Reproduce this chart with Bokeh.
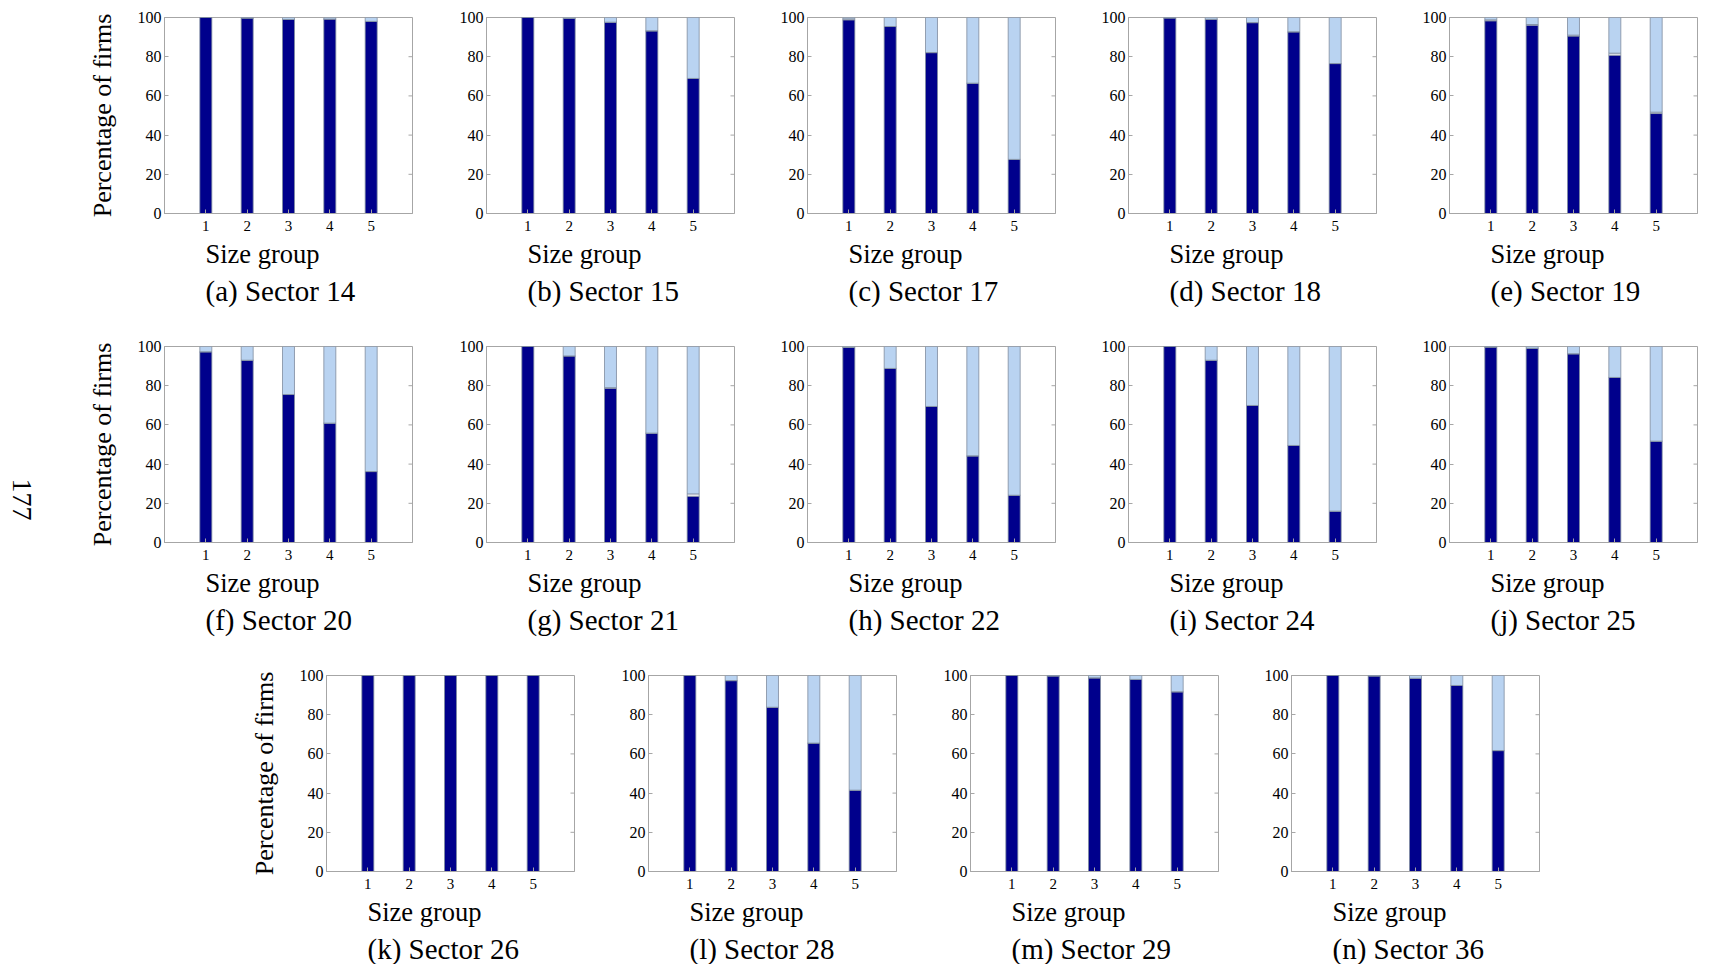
from bokeh.plotting import figure
from bokeh.layouts import row, column
from bokeh.models import (Title, FixedTicker, Range1d, ColumnDataSource, Spacer)
from bokeh.core.properties import value
from bokeh.embed import file_html
from bokeh.resources import INLINE
import math

# ---------------- data ----------------
size_groups = [1, 2, 3, 4, 5]
x_ticks = [1, 2, 3, 4, 5]
y_ticks = [0, 20, 40, 60, 80, 100]

panel_letters = ["a", "b", "c", "d", "e", "f", "g", "h", "i", "j", "k", "l", "m", "n"]
sectors = [14, 15, 17, 18, 19, 20, 21, 22, 24, 25, 26, 28, 29, 36]

dark_14 = [100, 99.7, 99.0, 99.2, 98.0]
mid_14 = [0, 0, 0, 0, 0]
light_14 = [0, 0.3, 1.0, 0.8, 2.0]

dark_15 = [100, 99.5, 97.6, 93.2, 68.9]
mid_15 = [0, 0, 0, 0, 0]
light_15 = [0, 0.5, 2.4, 6.8, 31.1]

dark_17 = [98.8, 95.4, 82.1, 66.5, 27.6]
mid_17 = [0.5, 0, 0, 0, 0]
light_17 = [0.7, 4.6, 17.9, 33.5, 72.4]

dark_18 = [99.8, 99.1, 97.4, 92.7, 76.5]
mid_18 = [0, 0, 0, 0, 0]
light_18 = [0.2, 0.9, 2.6, 7.3, 23.5]

dark_19 = [98.3, 96.1, 90.5, 80.8, 51.0]
mid_19 = [0.5, 0.3, 0.5, 1.0, 0.7]
light_19 = [1.2, 3.6, 9.0, 18.2, 48.3]

dark_20 = [97.3, 93.0, 75.5, 60.9, 36.2]
mid_20 = [0, 0, 0, 0, 0]
light_20 = [2.7, 7.0, 24.5, 39.1, 63.8]

dark_21 = [100, 95.2, 78.7, 55.8, 23.6]
mid_21 = [0, 0, 0.3, 0, 1.2]
light_21 = [0, 4.8, 21.0, 44.2, 75.2]

dark_22 = [99.5, 88.8, 69.4, 44.2, 24.1]
mid_22 = [0, 0, 0, 0, 0]
light_22 = [0.5, 11.2, 30.6, 55.8, 75.9]

dark_24 = [100, 93.0, 69.9, 49.5, 16.0]
mid_24 = [0, 0, 0, 0, 0]
light_24 = [0, 7.0, 30.1, 50.5, 84.0]

dark_25 = [99.7, 99.1, 96.3, 84.2, 51.7]
mid_25 = [0, 0, 0, 0, 0]
light_25 = [0.3, 0.9, 3.7, 15.8, 48.3]

dark_26 = [100, 100, 100, 100, 100]
mid_26 = [0, 0, 0, 0, 0]
light_26 = [0, 0, 0, 0, 0]

dark_28 = [100, 97.4, 83.8, 65.5, 41.5]
mid_28 = [0, 0, 0, 0, 0]
light_28 = [0, 2.6, 16.2, 34.5, 58.5]

dark_29 = [100, 99.8, 98.8, 98.0, 91.7]
mid_29 = [0, 0, 0, 0, 0]
light_29 = [0, 0.2, 1.2, 2.0, 8.3]

dark_36 = [100, 99.8, 98.6, 94.9, 61.7]
mid_36 = [0, 0, 0, 0, 0]
light_36 = [0, 0.2, 1.4, 5.1, 38.3]

series = {
    14: (dark_14, mid_14, light_14), 15: (dark_15, mid_15, light_15),
    17: (dark_17, mid_17, light_17), 18: (dark_18, mid_18, light_18),
    19: (dark_19, mid_19, light_19), 20: (dark_20, mid_20, light_20),
    21: (dark_21, mid_21, light_21), 22: (dark_22, mid_22, light_22),
    24: (dark_24, mid_24, light_24), 25: (dark_25, mid_25, light_25),
    26: (dark_26, mid_26, light_26), 28: (dark_28, mid_28, light_28),
    29: (dark_29, mid_29, light_29), 36: (dark_36, mid_36, light_36),
}

y_label_text = "Percentage of firms"
x_label_text = "Size group"
page_number = "177"

# ---------------- style ----------------
FONT = "Liberation Serif"
DARK = "#00008C"
MID = "#FFFFFF"
LIGHT = "#B9D3F1"
EDGE = "#7F8C9E"
FRAME = "#A6A6A6"
X_MIN, X_MAX = 0, 6


def make_panel(letter, sector, with_ylabel, border_left, border_right, border_top, border_bottom):
    dark, mid, light = series[sector]
    src = ColumnDataSource(dict(x=size_groups, dark=dark, mid=mid, light=light))
    p = figure(frame_width=248, frame_height=196,
               min_border_left=border_left, min_border_right=border_right,
               min_border_top=border_top, min_border_bottom=border_bottom,
               x_range=Range1d(X_MIN, X_MAX), y_range=Range1d(0, 100),
               output_backend="svg", toolbar_location=None, tools="")
    p.vbar_stack(["dark", "mid", "light"], x="x", width=0.29, source=src,
                 fill_color=[DARK, MID, LIGHT], line_color=EDGE, line_width=0.8)
    # mirrored (inward) tick marks on the right edge of the box
    p.ray(x=[X_MAX] * len(y_ticks), y=y_ticks, length=4, length_units="screen",
          angle=math.pi, line_color=FRAME, line_width=1)
    p.grid.visible = False
    p.outline_line_color = FRAME
    p.outline_line_width = 1
    p.background_fill_color = "white"
    p.border_fill_color = "white"

    for ax in (p.xaxis[0], p.yaxis[0]):
        ax.axis_line_color = FRAME
        ax.major_tick_line_color = FRAME
        ax.minor_tick_line_color = None
        ax.major_tick_in = 4
        ax.major_tick_out = 0
        ax.major_label_text_font = FONT
        ax.major_label_text_color = "black"
    p.xaxis.ticker = FixedTicker(ticks=x_ticks)
    p.yaxis.ticker = FixedTicker(ticks=y_ticks)
    p.xaxis.major_label_text_font_size = "15px"
    p.yaxis.major_label_text_font_size = "16px"
    p.xaxis.major_label_standoff = 7
    p.yaxis.major_label_standoff = 3

    if with_ylabel:
        p.yaxis.axis_label = y_label_text
        p.yaxis.axis_label_text_font = FONT
        p.yaxis.axis_label_text_font_size = "26px"
        p.yaxis.axis_label_text_font_style = "normal"
        p.yaxis.axis_label_text_color = "black"
        p.yaxis.axis_label_standoff = 18

    t1 = Title(text=x_label_text, align="left", offset=41, standoff=7,
               text_font=FONT, text_font_size="26.5px", text_font_style="normal",
               text_color="black")
    p.add_layout(t1, "below")
    t2 = Title(text="(%s) Sector %d" % (letter, sector), align="left", offset=41, standoff=0,
               text_font=FONT, text_font_size="29px", text_font_style="normal",
               text_color="black")
    p.add_layout(t2, "below")
    return p


def make_page_number():
    # narrow strip at the left margin carrying the rotated page number
    q = figure(frame_width=46, frame_height=329, x_range=Range1d(0, 46), y_range=Range1d(0, 329),
               min_border=0, x_axis_type=None, y_axis_type=None, title=None,
               output_backend="svg", toolbar_location=None, tools="")
    q.grid.visible = False
    q.outline_line_color = None
    q.border_fill_color = "white"
    q.background_fill_color = "white"
    q.text(x=[21.5], y=[176], text=[page_number], angle=-math.pi / 2,
           text_align="center", text_baseline="middle",
           text_font=value(FONT), text_font_size="28px", text_color="black")
    return q


# row 1
r1 = [Spacer(width=6, height=10)]
for i in range(5):
    letter, sector = panel_letters[i], sectors[i]
    first = (i == 0)
    r1.append(make_panel(letter, sector, first, 158 if first else 40,
                         34 if first else (5 if i == 4 else 33), 17, 123))
# row 2
r2 = [make_page_number()]
for i in range(5):
    letter, sector = panel_letters[5 + i], sectors[5 + i]
    first = (i == 0)
    r2.append(make_panel(letter, sector, first, 118 if first else 40,
                         34 if first else (5 if i == 4 else 33), 10, 123))
# row 3
r3 = [Spacer(width=168, height=10)]
rights3 = [34, 34, 33, 20]
for i in range(4):
    letter, sector = panel_letters[10 + i], sectors[10 + i]
    first = (i == 0)
    r3.append(make_panel(letter, sector, first, 158 if first else 40, rights3[i], 10, 92))

layout = column(row(*r1), row(*r2), row(*r3))

with open("out.html", "w") as f:
    f.write(file_html(layout, INLINE))
